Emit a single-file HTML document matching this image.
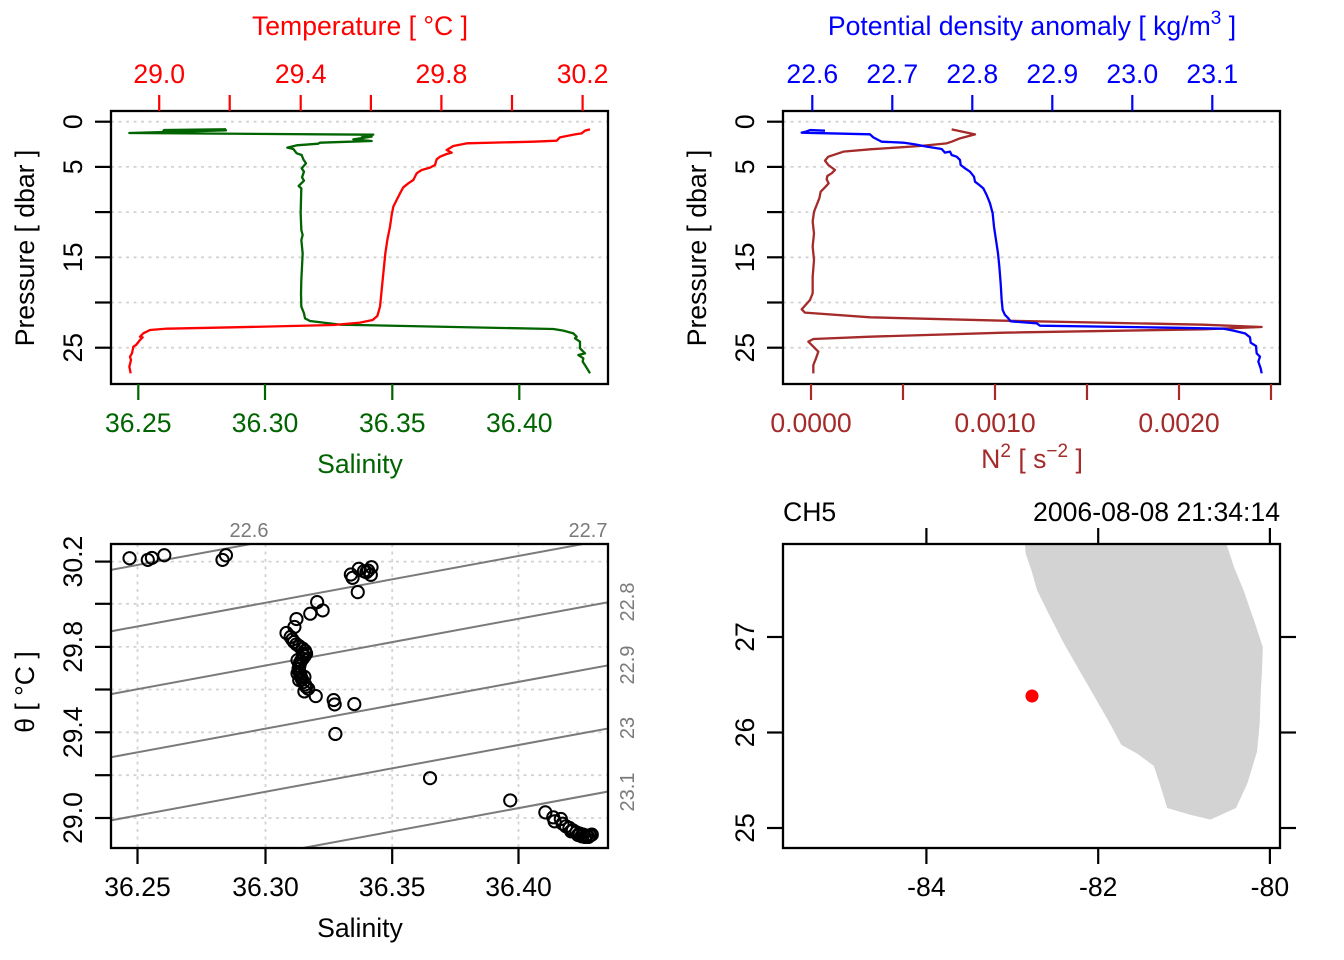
<!DOCTYPE html>
<html><head><meta charset="utf-8"><style>
html,body{margin:0;padding:0;background:#fff;}
svg{display:block;}
text{font-family:"Liberation Sans",Arial,sans-serif;font-size:26.6px;}
</style></head><body>
<svg width="1344" height="960" viewBox="0 0 1344 960" xmlns="http://www.w3.org/2000/svg">
<defs>
<clipPath id="c1"><rect x="111" y="111" width="497" height="273"/></clipPath>
<clipPath id="c2"><rect x="783" y="111" width="497" height="273"/></clipPath>
<clipPath id="c3"><rect x="111" y="544" width="497" height="304"/></clipPath>
<clipPath id="c4"><rect x="783" y="544" width="497" height="304"/></clipPath>
</defs>

<!-- ============ PANEL 1 ============ -->
<g stroke="#d3d3d3" stroke-width="1.8" stroke-dasharray="3 4.5">
<line x1="111" y1="121.7" x2="608" y2="121.7"/><line x1="111" y1="166.9" x2="608" y2="166.9"/>
<line x1="111" y1="212.1" x2="608" y2="212.1"/><line x1="111" y1="257.3" x2="608" y2="257.3"/>
<line x1="111" y1="302.5" x2="608" y2="302.5"/><line x1="111" y1="347.7" x2="608" y2="347.7"/>
</g>
<g clip-path="url(#c1)"><g transform="translate(100,100) scale(0.33333)" fill="none" stroke-linejoin="round">
<polyline vector-effect="non-scaling-stroke" stroke="#006400" stroke-width="2.3" points="378,88 192,90 190,93 378,91 88,99 820,104 785,107 815,110 760,118 815,123 750,125 660,128 655,131 590,136 562,143 580,147 590,160 605,165 610,178 618,190 605,205 612,215 606,232 612,242 596,258 604,265 603,300 602,340 604,390 608,405 604,420 608,460 606,500 604,540 603,580 604,620 612,640 615,655 630,663 720,674 1360,687 1390,692 1420,700 1430,710 1425,715 1440,725 1440,745 1455,760 1435,765 1450,775 1448,785 1458,800 1470,820"/>
<polyline vector-effect="non-scaling-stroke" stroke="#ff0000" stroke-width="2.3" points="1470,88 1455,92 1445,100 1425,103 1400,108 1380,112 1370,122 1300,125 1100,130 1060,138 1040,150 1055,158 1040,162 1020,170 1010,178 1005,195 990,203 965,210 950,220 940,240 925,250 910,262 900,280 890,300 880,320 875,345 870,380 862,420 856,460 852,500 848,540 844,580 840,620 832,648 818,660 780,668 700,675 400,682 200,686 150,690 130,700 120,710 128,712 120,720 108,735 100,740 96,760 90,770 93,780 88,800 92,820"/>
</g></g>
<rect x="111" y="111" width="497" height="273" fill="none" stroke="#000" stroke-width="2.3"/>
<g stroke="#000" stroke-width="2.2">
<line x1="95" y1="121.7" x2="111" y2="121.7"/><line x1="95" y1="166.9" x2="111" y2="166.9"/>
<line x1="95" y1="212.1" x2="111" y2="212.1"/><line x1="95" y1="257.3" x2="111" y2="257.3"/>
<line x1="95" y1="302.5" x2="111" y2="302.5"/><line x1="95" y1="347.7" x2="111" y2="347.7"/>
</g>
<g text-anchor="middle">
<text transform="translate(82,121.7) rotate(-90)">0</text>
<text transform="translate(82,166.9) rotate(-90)">5</text>
<text transform="translate(82,257.3) rotate(-90)">15</text>
<text transform="translate(82,347.7) rotate(-90)">25</text>
<text transform="translate(34,248) rotate(-90)">Pressure [ dbar ]</text>
</g>
<g stroke="#ff0000" stroke-width="2.2">
<line x1="159.2" y1="95" x2="159.2" y2="111"/><line x1="229.7" y1="95" x2="229.7" y2="111"/>
<line x1="300.7" y1="95" x2="300.7" y2="111"/><line x1="370.9" y1="95" x2="370.9" y2="111"/>
<line x1="441.4" y1="95" x2="441.4" y2="111"/><line x1="512" y1="95" x2="512" y2="111"/>
<line x1="582.6" y1="95" x2="582.6" y2="111"/>
</g>
<g fill="#ff0000" text-anchor="middle">
<text x="159.2" y="83">29.0</text><text x="300.7" y="83">29.4</text>
<text x="441.4" y="83">29.8</text><text x="582.6" y="83">30.2</text>
<text x="360" y="35">Temperature [ °C ]</text>
</g>
<g stroke="#006400" stroke-width="2.2">
<line x1="138.3" y1="384" x2="138.3" y2="400"/><line x1="265" y1="384" x2="265" y2="400"/>
<line x1="392.3" y1="384" x2="392.3" y2="400"/><line x1="519.3" y1="384" x2="519.3" y2="400"/>
</g>
<g fill="#006400" text-anchor="middle">
<text x="138.3" y="432">36.25</text><text x="265" y="432">36.30</text>
<text x="392.3" y="432">36.35</text><text x="519.3" y="432">36.40</text>
<text x="360" y="473">Salinity</text>
</g>

<!-- ============ PANEL 2 ============ -->
<g stroke="#d3d3d3" stroke-width="1.8" stroke-dasharray="3 4.5">
<line x1="783" y1="121.7" x2="1280" y2="121.7"/><line x1="783" y1="166.9" x2="1280" y2="166.9"/>
<line x1="783" y1="212.1" x2="1280" y2="212.1"/><line x1="783" y1="257.3" x2="1280" y2="257.3"/>
<line x1="783" y1="302.5" x2="1280" y2="302.5"/><line x1="783" y1="347.7" x2="1280" y2="347.7"/>
</g>
<g clip-path="url(#c2)"><g transform="translate(770,100) scale(0.33333)" fill="none" stroke-linejoin="round">
<polyline vector-effect="non-scaling-stroke" stroke="#a52a2a" stroke-width="2.3" points="545,88 615,103 570,115 545,125 530,130 450,138 300,148 220,155 175,170 165,182 175,195 195,210 185,220 172,228 170,238 176,250 165,262 152,275 148,295 140,315 132,335 128,365 132,400 128,440 132,480 128,530 128,580 120,600 95,628 105,638 300,652 700,662 1300,674 1475,681 1300,688 700,698 300,710 130,717 115,725 125,735 145,755 138,775 130,795 130,820"/>
<polyline vector-effect="non-scaling-stroke" stroke="#0000ff" stroke-width="2.3" points="165,92 120,90 108,95 95,98 300,103 310,112 325,120 335,125 400,128 435,133 470,140 515,147 525,158 540,155 545,165 560,170 570,180 572,195 585,205 600,215 612,230 615,245 628,255 640,265 650,285 660,310 668,340 672,380 678,420 684,460 688,500 692,550 695,600 698,630 705,645 715,655 722,664 800,670 810,677 1200,683 1360,686 1390,692 1425,700 1440,712 1442,728 1458,738 1460,760 1470,770 1465,785 1472,805 1475,820"/>
</g></g>
<rect x="783" y="111" width="497" height="273" fill="none" stroke="#000" stroke-width="2.3"/>
<g stroke="#000" stroke-width="2.2">
<line x1="767" y1="121.7" x2="783" y2="121.7"/><line x1="767" y1="166.9" x2="783" y2="166.9"/>
<line x1="767" y1="212.1" x2="783" y2="212.1"/><line x1="767" y1="257.3" x2="783" y2="257.3"/>
<line x1="767" y1="302.5" x2="783" y2="302.5"/><line x1="767" y1="347.7" x2="783" y2="347.7"/>
</g>
<g text-anchor="middle">
<text transform="translate(754,121.7) rotate(-90)">0</text>
<text transform="translate(754,166.9) rotate(-90)">5</text>
<text transform="translate(754,257.3) rotate(-90)">15</text>
<text transform="translate(754,347.7) rotate(-90)">25</text>
<text transform="translate(706,248) rotate(-90)">Pressure [ dbar ]</text>
</g>
<g stroke="#0000ff" stroke-width="2.2">
<line x1="812.3" y1="95" x2="812.3" y2="111"/><line x1="892.3" y1="95" x2="892.3" y2="111"/>
<line x1="972.3" y1="95" x2="972.3" y2="111"/><line x1="1052.3" y1="95" x2="1052.3" y2="111"/>
<line x1="1132.3" y1="95" x2="1132.3" y2="111"/><line x1="1212.3" y1="95" x2="1212.3" y2="111"/>
</g>
<g fill="#0000ff" text-anchor="middle">
<text x="812.3" y="83">22.6</text><text x="892.3" y="83">22.7</text>
<text x="972.3" y="83">22.8</text><text x="1052.3" y="83">22.9</text>
<text x="1132.3" y="83">23.0</text><text x="1212.3" y="83">23.1</text>
<text x="1032" y="35">Potential density anomaly [ kg/m<tspan font-size="19" dy="-11">3</tspan><tspan dy="11"> ]</tspan></text>
</g>
<g stroke="#a52a2a" stroke-width="2.2">
<line x1="811" y1="384" x2="811" y2="400"/><line x1="903" y1="384" x2="903" y2="400"/>
<line x1="995" y1="384" x2="995" y2="400"/><line x1="1087" y1="384" x2="1087" y2="400"/>
<line x1="1179" y1="384" x2="1179" y2="400"/><line x1="1271" y1="384" x2="1271" y2="400"/>
</g>
<g fill="#a52a2a" text-anchor="middle">
<text x="811" y="432">0.0000</text><text x="995" y="432">0.0010</text><text x="1179" y="432">0.0020</text>
<text x="1032" y="468">N<tspan font-size="19" dy="-11">2</tspan><tspan dy="11"> [ s</tspan><tspan font-size="19" dy="-11">−2</tspan><tspan dy="11"> ]</tspan></text>
</g>

<!-- ============ PANEL 3 (TS) ============ -->
<g stroke="#d3d3d3" stroke-width="1.8" stroke-dasharray="3 4.5">
<line x1="137.5" y1="544" x2="137.5" y2="848"/><line x1="265.5" y1="544" x2="265.5" y2="848"/>
<line x1="392.2" y1="544" x2="392.2" y2="848"/><line x1="518.5" y1="544" x2="518.5" y2="848"/>
<line x1="111" y1="561.6" x2="608" y2="561.6"/><line x1="111" y1="603.8" x2="608" y2="603.8"/>
<line x1="111" y1="646.9" x2="608" y2="646.9"/><line x1="111" y1="689.5" x2="608" y2="689.5"/>
<line x1="111" y1="732.3" x2="608" y2="732.3"/><line x1="111" y1="775.2" x2="608" y2="775.2"/>
<line x1="111" y1="818" x2="608" y2="818"/>
</g>
<g clip-path="url(#c3)"><g transform="matrix(0.3442 0 0 0.3322 99.6 520.7)">
<g stroke="#7a7a7a" stroke-width="2" fill="none">
<line vector-effect="non-scaling-stroke" x1="0" y1="154.3" x2="1500" y2="-133"/>
<line vector-effect="non-scaling-stroke" x1="0" y1="339.3" x2="1500" y2="52"/>
<line vector-effect="non-scaling-stroke" x1="0" y1="528.3" x2="1500" y2="241"/>
<line vector-effect="non-scaling-stroke" x1="0" y1="718.3" x2="1500" y2="431"/>
<line vector-effect="non-scaling-stroke" x1="0" y1="908.3" x2="1500" y2="621"/>
<line vector-effect="non-scaling-stroke" x1="0" y1="1098.3" x2="1500" y2="811"/>
</g>
<g stroke="#000" fill="none" stroke-width="2">
<ellipse vector-effect="non-scaling-stroke" cx="87" cy="113" rx="17.7" ry="18.3"/>
<ellipse vector-effect="non-scaling-stroke" cx="140" cy="118" rx="17.7" ry="18.3"/>
<ellipse vector-effect="non-scaling-stroke" cx="152" cy="112" rx="17.7" ry="18.3"/>
<ellipse vector-effect="non-scaling-stroke" cx="188" cy="104" rx="17.7" ry="18.3"/>
<ellipse vector-effect="non-scaling-stroke" cx="357" cy="118" rx="17.7" ry="18.3"/>
<ellipse vector-effect="non-scaling-stroke" cx="367" cy="104" rx="17.7" ry="18.3"/>
<ellipse vector-effect="non-scaling-stroke" cx="730" cy="162" rx="17.7" ry="18.3"/>
<ellipse vector-effect="non-scaling-stroke" cx="735" cy="172" rx="17.7" ry="18.3"/>
<ellipse vector-effect="non-scaling-stroke" cx="753" cy="145" rx="17.7" ry="18.3"/>
<ellipse vector-effect="non-scaling-stroke" cx="768" cy="152" rx="17.7" ry="18.3"/>
<ellipse vector-effect="non-scaling-stroke" cx="780" cy="150" rx="17.7" ry="18.3"/>
<ellipse vector-effect="non-scaling-stroke" cx="790" cy="140" rx="17.7" ry="18.3"/>
<ellipse vector-effect="non-scaling-stroke" cx="788" cy="163" rx="17.7" ry="18.3"/>
<ellipse vector-effect="non-scaling-stroke" cx="775" cy="155" rx="17.7" ry="18.3"/>
<ellipse vector-effect="non-scaling-stroke" cx="750" cy="215" rx="17.7" ry="18.3"/>
<ellipse vector-effect="non-scaling-stroke" cx="632" cy="245" rx="17.7" ry="18.3"/>
<ellipse vector-effect="non-scaling-stroke" cx="648" cy="270" rx="17.7" ry="18.3"/>
<ellipse vector-effect="non-scaling-stroke" cx="612" cy="280" rx="17.7" ry="18.3"/>
<ellipse vector-effect="non-scaling-stroke" cx="572" cy="296" rx="17.7" ry="18.3"/>
<ellipse vector-effect="non-scaling-stroke" cx="566" cy="320" rx="17.7" ry="18.3"/>
<ellipse vector-effect="non-scaling-stroke" cx="543" cy="338" rx="17.7" ry="18.3"/>
<ellipse vector-effect="non-scaling-stroke" cx="555" cy="350" rx="17.7" ry="18.3"/>
<ellipse vector-effect="non-scaling-stroke" cx="560" cy="358" rx="17.7" ry="18.3"/>
<ellipse vector-effect="non-scaling-stroke" cx="565" cy="365" rx="17.7" ry="18.3"/>
<ellipse vector-effect="non-scaling-stroke" cx="572" cy="372" rx="17.7" ry="18.3"/>
<ellipse vector-effect="non-scaling-stroke" cx="580" cy="378" rx="17.7" ry="18.3"/>
<ellipse vector-effect="non-scaling-stroke" cx="590" cy="385" rx="17.7" ry="18.3"/>
<ellipse vector-effect="non-scaling-stroke" cx="597" cy="392" rx="17.7" ry="18.3"/>
<ellipse vector-effect="non-scaling-stroke" cx="600" cy="400" rx="17.7" ry="18.3"/>
<ellipse vector-effect="non-scaling-stroke" cx="595" cy="408" rx="17.7" ry="18.3"/>
<ellipse vector-effect="non-scaling-stroke" cx="590" cy="415" rx="17.7" ry="18.3"/>
<ellipse vector-effect="non-scaling-stroke" cx="585" cy="422" rx="17.7" ry="18.3"/>
<ellipse vector-effect="non-scaling-stroke" cx="582" cy="430" rx="17.7" ry="18.3"/>
<ellipse vector-effect="non-scaling-stroke" cx="580" cy="438" rx="17.7" ry="18.3"/>
<ellipse vector-effect="non-scaling-stroke" cx="578" cy="446" rx="17.7" ry="18.3"/>
<ellipse vector-effect="non-scaling-stroke" cx="580" cy="454" rx="17.7" ry="18.3"/>
<ellipse vector-effect="non-scaling-stroke" cx="583" cy="462" rx="17.7" ry="18.3"/>
<ellipse vector-effect="non-scaling-stroke" cx="585" cy="470" rx="17.7" ry="18.3"/>
<ellipse vector-effect="non-scaling-stroke" cx="588" cy="478" rx="17.7" ry="18.3"/>
<ellipse vector-effect="non-scaling-stroke" cx="592" cy="486" rx="17.7" ry="18.3"/>
<ellipse vector-effect="non-scaling-stroke" cx="597" cy="493" rx="17.7" ry="18.3"/>
<ellipse vector-effect="non-scaling-stroke" cx="600" cy="500" rx="17.7" ry="18.3"/>
<ellipse vector-effect="non-scaling-stroke" cx="606" cy="506" rx="17.7" ry="18.3"/>
<ellipse vector-effect="non-scaling-stroke" cx="595" cy="514" rx="17.7" ry="18.3"/>
<ellipse vector-effect="non-scaling-stroke" cx="590" cy="400" rx="17.7" ry="18.3"/>
<ellipse vector-effect="non-scaling-stroke" cx="575" cy="420" rx="17.7" ry="18.3"/>
<ellipse vector-effect="non-scaling-stroke" cx="575" cy="460" rx="17.7" ry="18.3"/>
<ellipse vector-effect="non-scaling-stroke" cx="595" cy="470" rx="17.7" ry="18.3"/>
<ellipse vector-effect="non-scaling-stroke" cx="580" cy="480" rx="17.7" ry="18.3"/>
<ellipse vector-effect="non-scaling-stroke" cx="628" cy="528" rx="17.7" ry="18.3"/>
<ellipse vector-effect="non-scaling-stroke" cx="680" cy="540" rx="17.7" ry="18.3"/>
<ellipse vector-effect="non-scaling-stroke" cx="683" cy="553" rx="17.7" ry="18.3"/>
<ellipse vector-effect="non-scaling-stroke" cx="740" cy="552" rx="17.7" ry="18.3"/>
<ellipse vector-effect="non-scaling-stroke" cx="685" cy="642" rx="17.7" ry="18.3"/>
<ellipse vector-effect="non-scaling-stroke" cx="960" cy="775" rx="17.7" ry="18.3"/>
<ellipse vector-effect="non-scaling-stroke" cx="1193" cy="842" rx="17.7" ry="18.3"/>
<ellipse vector-effect="non-scaling-stroke" cx="1295" cy="878" rx="17.7" ry="18.3"/>
<ellipse vector-effect="non-scaling-stroke" cx="1318" cy="893" rx="17.7" ry="18.3"/>
<ellipse vector-effect="non-scaling-stroke" cx="1322" cy="905" rx="17.7" ry="18.3"/>
<ellipse vector-effect="non-scaling-stroke" cx="1340" cy="898" rx="17.7" ry="18.3"/>
<ellipse vector-effect="non-scaling-stroke" cx="1345" cy="912" rx="17.7" ry="18.3"/>
<ellipse vector-effect="non-scaling-stroke" cx="1355" cy="920" rx="17.7" ry="18.3"/>
<ellipse vector-effect="non-scaling-stroke" cx="1365" cy="925" rx="17.7" ry="18.3"/>
<ellipse vector-effect="non-scaling-stroke" cx="1370" cy="935" rx="17.7" ry="18.3"/>
<ellipse vector-effect="non-scaling-stroke" cx="1375" cy="932" rx="17.7" ry="18.3"/>
<ellipse vector-effect="non-scaling-stroke" cx="1385" cy="938" rx="17.7" ry="18.3"/>
<ellipse vector-effect="non-scaling-stroke" cx="1390" cy="946" rx="17.7" ry="18.3"/>
<ellipse vector-effect="non-scaling-stroke" cx="1395" cy="942" rx="17.7" ry="18.3"/>
<ellipse vector-effect="non-scaling-stroke" cx="1400" cy="950" rx="17.7" ry="18.3"/>
<ellipse vector-effect="non-scaling-stroke" cx="1405" cy="945" rx="17.7" ry="18.3"/>
<ellipse vector-effect="non-scaling-stroke" cx="1410" cy="952" rx="17.7" ry="18.3"/>
<ellipse vector-effect="non-scaling-stroke" cx="1415" cy="948" rx="17.7" ry="18.3"/>
<ellipse vector-effect="non-scaling-stroke" cx="1420" cy="952" rx="17.7" ry="18.3"/>
<ellipse vector-effect="non-scaling-stroke" cx="1425" cy="948" rx="17.7" ry="18.3"/>
<ellipse vector-effect="non-scaling-stroke" cx="1430" cy="945" rx="17.7" ry="18.3"/>
</g>
</g></g>
<rect x="111" y="544" width="497" height="304" fill="none" stroke="#000" stroke-width="2.3"/>
<g stroke="#000" stroke-width="2.2">
<line x1="95" y1="561.6" x2="111" y2="561.6"/><line x1="95" y1="603.8" x2="111" y2="603.8"/>
<line x1="95" y1="646.9" x2="111" y2="646.9"/><line x1="95" y1="689.5" x2="111" y2="689.5"/>
<line x1="95" y1="732.3" x2="111" y2="732.3"/><line x1="95" y1="775.2" x2="111" y2="775.2"/>
<line x1="95" y1="818" x2="111" y2="818"/>
<line x1="137.5" y1="848" x2="137.5" y2="864"/><line x1="265.5" y1="848" x2="265.5" y2="864"/>
<line x1="392.2" y1="848" x2="392.2" y2="864"/><line x1="518.5" y1="848" x2="518.5" y2="864"/>
</g>
<g text-anchor="middle">
<text transform="translate(82,561.6) rotate(-90)">30.2</text>
<text transform="translate(82,646.9) rotate(-90)">29.8</text>
<text transform="translate(82,732.3) rotate(-90)">29.4</text>
<text transform="translate(82,818) rotate(-90)">29.0</text>
<text transform="translate(34,692) rotate(-90)">θ [ °C ]</text>
<text x="137.5" y="896">36.25</text><text x="265.5" y="896">36.30</text>
<text x="392.2" y="896">36.35</text><text x="518.5" y="896">36.40</text>
<text x="360" y="937">Salinity</text>
</g>
<g fill="#7a7a7a" text-anchor="middle">
<text x="249" y="537" style="font-size:20px">22.6</text>
<text x="588" y="537" style="font-size:20px">22.7</text>
<text transform="translate(634,602) rotate(-90)" style="font-size:20px">22.8</text>
<text transform="translate(634,665) rotate(-90)" style="font-size:20px">22.9</text>
<text transform="translate(634,728) rotate(-90)" style="font-size:20px">23</text>
<text transform="translate(634,792) rotate(-90)" style="font-size:20px">23.1</text>
</g>

<!-- ============ PANEL 4 (map) ============ -->
<g clip-path="url(#c4)">
<g transform="matrix(0.3823 0 0 0.3322 719.9 490.8)">
<polygon fill="#d3d3d3" stroke="none" points="798,140 798,160 800,190 815,240 830,300 860,370 900,460 940,540 980,620 1020,700 1050,765 1090,790 1135,828 1150,880 1170,955 1230,975 1283,990 1350,955 1380,880 1405,785 1412,700 1415,600 1418,540 1420,470 1400,400 1370,300 1345,230 1325,160 1320,140"/>
</g>
<circle cx="1032" cy="696" r="6.5" fill="#ff0000"/>
</g>
<rect x="783" y="544" width="497" height="304" fill="none" stroke="#000" stroke-width="2.3"/>
<g stroke="#000" stroke-width="2.2">
<line x1="926.4" y1="528" x2="926.4" y2="544"/><line x1="1098.2" y1="528" x2="1098.2" y2="544"/><line x1="1269.9" y1="528" x2="1269.9" y2="544"/>
<line x1="926.4" y1="848" x2="926.4" y2="864"/><line x1="1098.2" y1="848" x2="1098.2" y2="864"/><line x1="1269.9" y1="848" x2="1269.9" y2="864"/>
<line x1="767" y1="637" x2="783" y2="637"/><line x1="767" y1="732.5" x2="783" y2="732.5"/><line x1="767" y1="828" x2="783" y2="828"/>
<line x1="1280" y1="637" x2="1296" y2="637"/><line x1="1280" y1="732.5" x2="1296" y2="732.5"/><line x1="1280" y1="828" x2="1296" y2="828"/>
</g>
<g text-anchor="middle">
<text x="926.4" y="896">-84</text><text x="1098.2" y="896">-82</text><text x="1269.9" y="896">-80</text>
<text transform="translate(754,637) rotate(-90)">27</text>
<text transform="translate(754,732.5) rotate(-90)">26</text>
<text transform="translate(754,828) rotate(-90)">25</text>
</g>
<text x="783" y="521">CH5</text>
<text x="1280" y="521" text-anchor="end">2006-08-08 21:34:14</text>
</svg>
</body></html>
